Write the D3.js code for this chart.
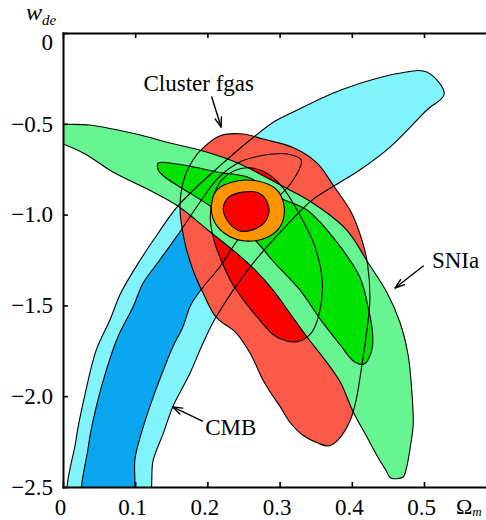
<!DOCTYPE html>
<html>
<head>
<meta charset="utf-8">
<script src="https://cdn.jsdelivr.net/npm/d3@7"></script>
<style>
  body { margin: 0; background: #fff; }
  svg { display: block; }
  text { font-family: "Liberation Serif", "Times New Roman", serif; }
</style>
</head>
<body>
<svg id="chart" width="486" height="520"></svg>
<script>
// Axis ticks
const xTicks = [0, 0.1, 0.2, 0.3, 0.4, 0.5];
const xTickLabels = ["0", "0.1", "0.2", "0.3", "0.4", "0.5"];
const yTicks = [0, -0.5, -1.0, -1.5, -2.0, -2.5];
const yTickLabels = ["0", "\u22120.5", "\u22121.0", "\u22121.5", "\u22122.0", "\u22122.5"];

// Confidence contours, each point is [Omega_m, w_de]
const cmb95 = [[0.011,-2.6],[0.018,-2.241],[0.030,-1.999],[0.046,-1.746],[0.065,-1.580],[0.080,-1.432],
  [0.107,-1.250],[0.132,-1.101],[0.159,-0.953],[0.211,-0.754],[0.266,-0.567],[0.294,-0.485],[0.316,-0.441],
  [0.385,-0.314],[0.468,-0.220],[0.504,-0.215],[0.528,-0.336],[0.504,-0.424],[0.453,-0.628],[0.411,-0.754],
  [0.375,-0.843],[0.345,-0.920],[0.301,-1.096],[0.259,-1.289],[0.212,-1.564],[0.194,-1.707],[0.176,-1.872],
  [0.152,-2.059],[0.139,-2.203],[0.125,-2.351],[0.114,-2.6]];
const cmb68 = [[0.030,-2.6],[0.035,-2.280],[0.046,-2.059],[0.060,-1.856],[0.076,-1.674],[0.097,-1.509],
  [0.111,-1.377],[0.134,-1.250],[0.159,-1.112],[0.187,-0.947],[0.215,-0.798],[0.245,-0.710],[0.280,-0.672],
  [0.310,-0.666],[0.330,-0.699],[0.316,-0.826],[0.276,-0.986],[0.242,-1.140],[0.217,-1.289],[0.194,-1.399],
  [0.177,-1.498],[0.166,-1.619],[0.152,-1.729],[0.139,-1.856],[0.125,-2.004],[0.111,-2.170],[0.100,-2.335],
  [0.093,-2.6]];
const fgas95 = [[0.194,-0.633],[0.217,-0.567],[0.249,-0.556],[0.277,-0.584],[0.320,-0.633],[0.352,-0.716],
  [0.375,-0.843],[0.399,-0.986],[0.414,-1.140],[0.422,-1.278],[0.425,-1.470],[0.421,-1.635],[0.414,-1.828],
  [0.406,-2.021],[0.398,-2.131],[0.381,-2.241],[0.368,-2.274],[0.353,-2.258],[0.332,-2.214],[0.314,-2.142],
  [0.301,-2.059],[0.287,-1.977],[0.277,-1.911],[0.259,-1.762],[0.240,-1.652],[0.212,-1.564],[0.194,-1.432],
  [0.180,-1.305],[0.168,-1.140],[0.162,-0.953],[0.169,-0.787],[0.180,-0.699]];
const fgas68 = [[0.208,-0.903],[0.220,-0.809],[0.240,-0.754],[0.262,-0.743],[0.284,-0.776],[0.305,-0.854],
  [0.328,-1.002],[0.348,-1.167],[0.359,-1.360],[0.356,-1.525],[0.345,-1.646],[0.328,-1.696],[0.310,-1.696],
  [0.292,-1.663],[0.270,-1.569],[0.252,-1.481],[0.234,-1.377],[0.220,-1.261],[0.209,-1.140],[0.204,-1.019]];
const sn95 = [[-0.025,-0.490],[0,-0.501],[0.037,-0.507],[0.069,-0.529],[0.107,-0.562],[0.148,-0.606],
  [0.194,-0.650],[0.245,-0.721],[0.301,-0.837],[0.346,-0.936],[0.393,-1.085],[0.422,-1.261],[0.449,-1.432],
  [0.467,-1.597],[0.478,-1.773],[0.483,-1.966],[0.485,-2.159],[0.481,-2.280],[0.476,-2.390],[0.471,-2.445],
  [0.454,-2.450],[0.447,-2.406],[0.436,-2.335],[0.421,-2.225],[0.402,-2.087],[0.384,-1.922],[0.363,-1.801],
  [0.338,-1.674],[0.314,-1.542],[0.292,-1.421],[0.266,-1.305],[0.240,-1.211],[0.204,-1.096],[0.159,-0.953],
  [0.114,-0.854],[0.069,-0.765],[0.030,-0.665],[0,-0.611],[-0.025,-0.578]];
const sn68 = [[0.132,-0.716],[0.166,-0.727],[0.213,-0.765],[0.259,-0.798],[0.301,-0.909],[0.338,-0.975],
  [0.380,-1.156],[0.411,-1.344],[0.422,-1.498],[0.429,-1.663],[0.427,-1.757],[0.417,-1.823],[0.404,-1.812],
  [0.384,-1.718],[0.357,-1.580],[0.328,-1.415],[0.292,-1.261],[0.259,-1.112],[0.204,-0.953],[0.162,-0.848],
  [0.141,-0.793],[0.132,-0.754]];
const all95 = [[0.206,-0.936],[0.213,-0.865],[0.235,-0.820],[0.269,-0.815],[0.295,-0.859],[0.306,-0.947],
  [0.302,-1.057],[0.284,-1.123],[0.252,-1.145],[0.223,-1.101],[0.208,-1.024]];
const all68 = [[0.222,-0.964],[0.230,-0.903],[0.249,-0.876],[0.271,-0.881],[0.284,-0.942],[0.283,-1.019],
  [0.269,-1.074],[0.245,-1.090],[0.229,-1.041]];

// Dataset labels and their pointer arrows (data coordinates)
const labelNames = ["Cluster fgas", "SNIa", "CMB"];
const labelPos = [[0.188,-0.319],[0.511,-1.294],[0.197,-2.214]];
const labelAnchor = ["middle", "start", "start"];
const arrowFrom = [[0.206,-0.352],[0.499,-1.283],[0.193,-2.137]];
const arrowTo = [[0.219,-0.518],[0.460,-1.404],[0.152,-2.059]];

const serif = "Liberation Serif, Times New Roman, serif";
const svg = d3.select("#chart");

const x = d3.scaleLinear().domain([0, 0.6]).range([63, 496.2]);
const y = d3.scaleLinear().domain([-2.5, 0]).range([487, 33]);

svg.append("defs").append("clipPath").attr("id", "plotClip")
  .append("rect")
  .attr("x", x(0)).attr("y", y(0))
  .attr("width", x(0.6) - x(0)).attr("height", y(-2.5) - y(0));

const contour = d3.line()
  .x(d => x(d[0])).y(d => y(d[1]))
  .curve(d3.curveCatmullRomClosed.alpha(0.5));

const layers = [
  { pts: cmb95, fill: "#80f3fb" },
  { pts: cmb68, fill: "#0aa6f0" },
  { pts: fgas95, fill: "#fb5a48" },
  { pts: fgas68, fill: "#ff0000" },
  { pts: sn95, fill: "#66f590" },
  { pts: sn68, fill: "#00e300" }
];
const combined = [
  { pts: all95, fill: "#ff9400" },
  { pts: all68, fill: "#ff0000" }
];

const plot = svg.append("g").attr("clip-path", "url(#plotClip)");

plot.selectAll("path.fill").data(layers).join("path")
  .attr("class", "fill")
  .attr("d", d => contour(d.pts))
  .attr("fill", d => d.fill);

plot.selectAll("path.edge").data(layers).join("path")
  .attr("class", "edge")
  .attr("d", d => contour(d.pts))
  .attr("fill", "none")
  .attr("stroke", "#000")
  .attr("stroke-width", 1.1);

plot.selectAll("path.joint").data(combined).join("path")
  .attr("class", "joint")
  .attr("d", d => contour(d.pts))
  .attr("fill", d => d.fill)
  .attr("stroke", "#000")
  .attr("stroke-width", 1.1);

// Axes with inward ticks
function styleAxis(g) {
  g.attr("font-family", serif).attr("font-size", 23);
  g.select(".domain").attr("stroke", "#000").attr("stroke-width", 2).attr("stroke-linecap", "square");
  g.selectAll(".tick line").attr("stroke", "#000").attr("stroke-width", 1.6);
  g.selectAll(".tick text").attr("fill", "#000").attr("font-family", serif).attr("font-size", 23);
}

svg.append("g")
  .attr("transform", `translate(0,${y(-2.5)})`)
  .call(d3.axisBottom(x).tickValues(xTicks).tickFormat((d, i) => xTickLabels[i])
    .tickSize(-5).tickSizeOuter(0).tickPadding(12))
  .call(styleAxis)
  .call(g => g.selectAll(".tick text").attr("dx", -3));

svg.append("g")
  .attr("transform", `translate(0,${y(0)})`)
  .call(d3.axisTop(x).tickValues(xTicks).tickFormat(() => "")
    .tickSize(-5).tickSizeOuter(0))
  .call(styleAxis);

svg.append("g")
  .attr("transform", `translate(${x(0)},0)`)
  .call(d3.axisLeft(y).tickValues(yTicks).tickFormat((d, i) => yTickLabels[i])
    .tickSize(-5).tickSizeOuter(0).tickPadding(10))
  .call(styleAxis)
  .call(g => g.selectAll(".tick text").filter(d => d === 0).attr("dy", "0.73em"));

// Axis titles
const yTitle = svg.append("text")
  .attr("x", 26).attr("y", 20)
  .attr("font-family", serif).attr("font-style", "italic").attr("font-size", 24);
yTitle.append("tspan").text("w");
yTitle.append("tspan").attr("dy", 5).attr("font-size", 15).text("de");

const xTitle = svg.append("text")
  .attr("x", 456).attr("y", 514)
  .attr("font-family", serif).attr("font-size", 22);
xTitle.append("tspan").text("\u03a9");
xTitle.append("tspan").attr("dy", 2).attr("font-size", 13).attr("font-style", "italic").text("m");

// Dataset labels
svg.selectAll("text.dlabel").data(labelNames).join("text")
  .attr("class", "dlabel")
  .attr("x", (d, i) => x(labelPos[i][0]))
  .attr("y", (d, i) => y(labelPos[i][1]))
  .attr("text-anchor", (d, i) => labelAnchor[i])
  .attr("font-family", serif).attr("font-size", 23)
  .text(d => d);

// Pointer arrows
const arrows = svg.append("g").attr("stroke", "#000").attr("fill", "none")
  .attr("stroke-width", 1.4).attr("stroke-linecap", "round").attr("stroke-linejoin", "round");
arrowFrom.forEach((f, i) => {
  const x0 = x(f[0]), y0 = y(f[1]);
  const x1 = x(arrowTo[i][0]), y1 = y(arrowTo[i][1]);
  const a = Math.atan2(y1 - y0, x1 - x0);
  const L = 10, s = 0.33;
  arrows.append("line").attr("x1", x0).attr("y1", y0).attr("x2", x1).attr("y2", y1);
  arrows.append("path")
    .attr("d", `M${x1 - L * Math.cos(a - s)},${y1 - L * Math.sin(a - s)}L${x1},${y1}L${x1 - L * Math.cos(a + s)},${y1 - L * Math.sin(a + s)}`);
});
</script>
</body>
</html>
